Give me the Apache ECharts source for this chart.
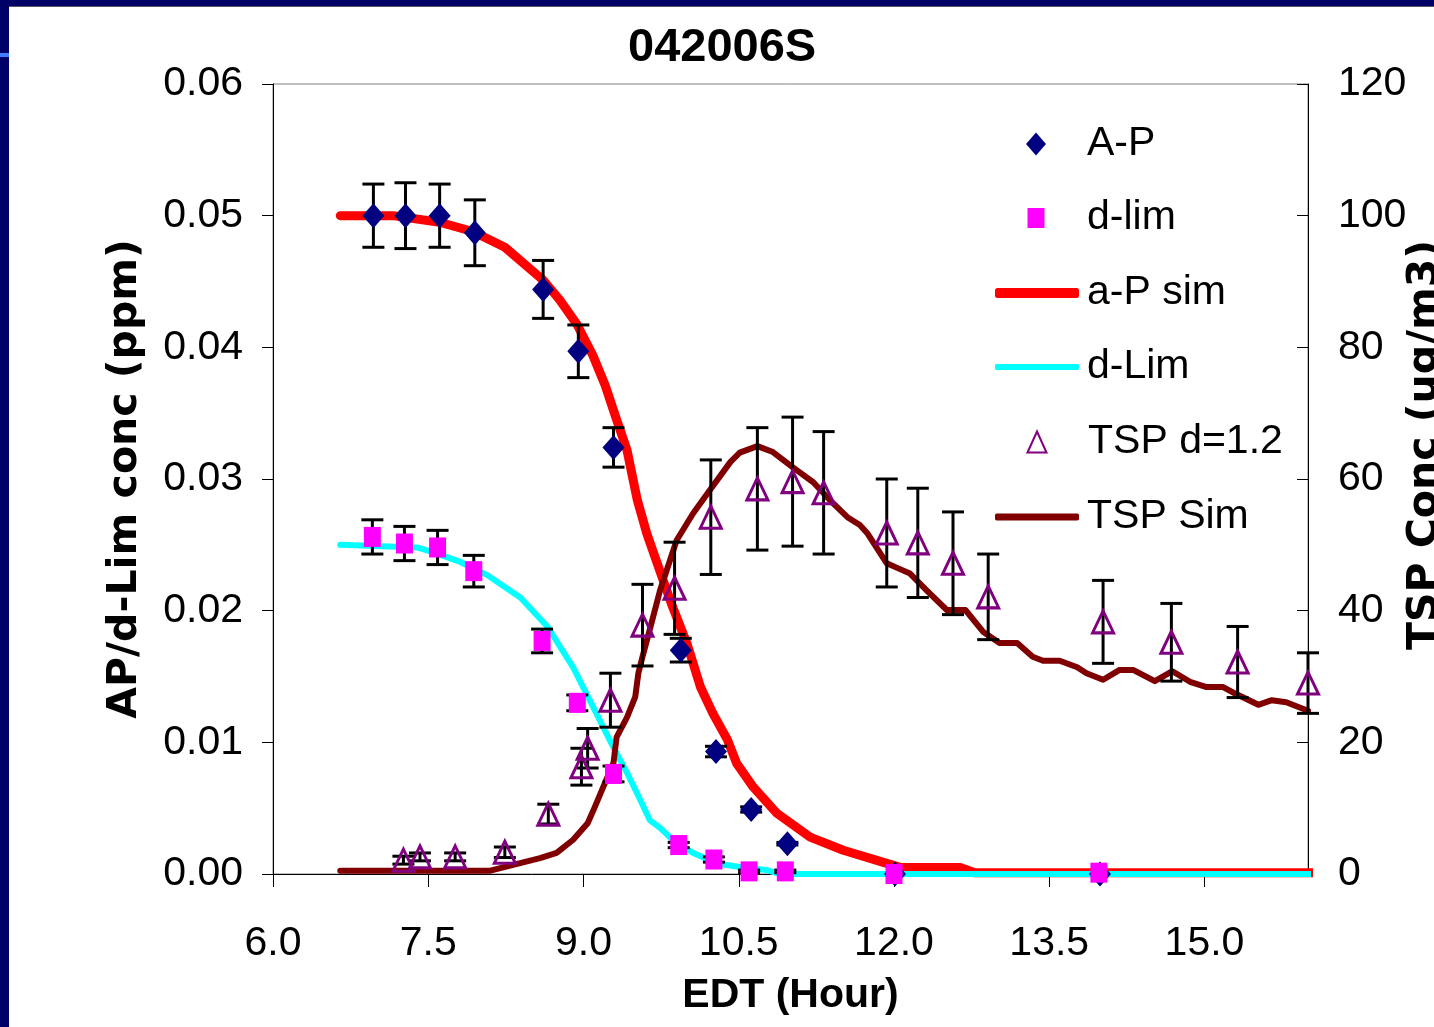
<!DOCTYPE html>
<html>
<head>
<meta charset="utf-8">
<script src="https://cdn.jsdelivr.net/npm/echarts@6/dist/echarts.min.js"></script>
<style>
html,body{margin:0;padding:0;background:#fff;}
#c{width:1434px;height:1027px;}
</style>
</head>
<body>
<div id="c"></div>
<script>
// ---- data ----
var xTicks = [6.0, 7.5, 9.0, 10.5, 12.0, 13.5, 15.0];
var leftTicks = [0.00, 0.01, 0.02, 0.03, 0.04, 0.05, 0.06];
var rightTicks = [0, 20, 40, 60, 80, 100, 120];

// A-P measured (ppm)
var apX   = [6.97, 7.28, 7.61, 7.95, 8.61, 8.95, 9.29, 9.94, 10.28, 10.62, 10.97, 12.01, 13.99];
var apY   = [0.0500, 0.0500, 0.0500, 0.0487, 0.0444, 0.0397, 0.0324, 0.0170, 0.0093, 0.0049, 0.0023, 0.0000, 0.0000];
var apErr = [0.0024, 0.0025, 0.0024, 0.0025, 0.0022, 0.0020, 0.0015, 0.0009, 0.0004, 0.0002, 0.0001, 0, 0];

// d-lim measured (ppm)
var dlX   = [6.96, 7.27, 7.59, 7.94, 8.60, 8.94, 9.29, 9.92, 10.26, 10.60, 10.95, 12.00, 13.98];
var dlY   = [0.0256, 0.0251, 0.0248, 0.0230, 0.0177, 0.0130, 0.0076, 0.0022, 0.0011, 0.0002, 0.0002, 0.0000, 0.0001];
var dlErr = [0.0013, 0.0013, 0.0013, 0.0012, 0.0009, 0.0006, 0.0006, 0.0002, 0.0002, 0.0001, 0.0001, 0, 0];

// TSP d=1.2 measured (ug/m3, right axis)
var tspX   = [7.26, 7.42, 7.76, 8.24, 8.66, 8.98, 9.04, 9.26, 9.57, 9.88, 10.23, 10.68, 11.02, 11.32, 11.93, 12.23, 12.57, 12.91, 14.02, 14.68, 15.32, 16.00];
var tspY   = [2.1, 2.6, 2.6, 3.3, 9.1, 16.3, 19.1, 26.4, 37.8, 43.4, 54.2, 58.5, 59.6, 57.9, 51.8, 50.3, 47.2, 42.1, 38.3, 35.2, 32.2, 29.0];
var tspErr = [0.6, 0.6, 0.6, 0.8, 1.5, 2.8, 3.0, 4.1, 6.2, 7.0, 8.7, 9.3, 9.8, 9.3, 8.2, 8.3, 7.8, 6.5, 6.3, 5.9, 5.4, 4.6];

// a-P sim (ppm)
var apSimX = [6.65, 7.16, 7.61, 7.93, 8.24, 8.61, 8.77, 8.94, 9.09, 9.21, 9.32, 9.42, 9.52, 9.61, 9.69, 9.77, 9.86, 10.00, 10.13, 10.25, 10.39, 10.48, 10.64, 10.87, 11.19, 11.51, 11.89, 12.06, 12.64, 12.78, 16.1];
var apSimY = [0.0500, 0.0500, 0.0495, 0.0488, 0.0476, 0.0451, 0.0436, 0.0417, 0.0394, 0.0371, 0.0345, 0.0322, 0.0284, 0.0259, 0.0241, 0.0223, 0.0203, 0.0175, 0.0142, 0.0122, 0.0102, 0.0084, 0.0066, 0.0046, 0.0028, 0.0018, 0.0009, 0.0005, 0.0005, 0.0001, 0.0001];

// d-Lim sim (ppm)
var dlSimX = [6.65, 7.39, 7.52, 7.81, 8.07, 8.39, 8.65, 8.90, 9.06, 9.29, 9.42, 9.55, 9.64, 9.74, 9.86, 10.06, 10.29, 10.54, 10.77, 10.90, 16.1];
var dlSimY = [0.0250, 0.0248, 0.0245, 0.0237, 0.0227, 0.0210, 0.0188, 0.0157, 0.0132, 0.0096, 0.0077, 0.0056, 0.0041, 0.0035, 0.0026, 0.0016, 0.0008, 0.0005, 0.0003, 0.0000, 0.0000];

// TSP sim (ug/m3, right axis)
var tspSimX = [6.65, 8.10, 8.58, 8.74, 8.90, 9.04, 9.11, 9.19, 9.29, 9.32, 9.42, 9.50, 9.53, 9.57, 9.64, 9.74, 9.90, 10.06, 10.22, 10.42, 10.51, 10.68, 10.83, 11.02, 11.22, 11.38, 11.55, 11.67, 11.74, 11.93, 12.03, 12.15, 12.32, 12.51, 12.69, 12.86, 13.02, 13.19, 13.34, 13.44, 13.60, 13.77, 13.86, 14.02, 14.18, 14.31, 14.52, 14.69, 14.86, 15.02, 15.18, 15.31, 15.52, 15.65, 15.79, 16.00];
var tspSimY = [0.5, 0.5, 2.4, 3.2, 5.2, 7.7, 10.2, 13.2, 16.9, 20.8, 23.8, 26.9, 30.5, 33.0, 37.1, 43.1, 50.7, 54.8, 58.3, 62.6, 64.0, 65.0, 64.1, 61.8, 59.5, 56.8, 54.2, 53.0, 51.8, 47.2, 46.5, 45.7, 43.0, 40.1, 40.1, 36.8, 35.1, 35.1, 33.0, 32.4, 32.4, 31.4, 30.5, 29.5, 31.0, 31.0, 29.3, 30.8, 29.2, 28.4, 28.4, 27.3, 25.7, 26.4, 26.1, 24.8];

// legend entries in display order
var legendNames = ['A-P', 'd-lim', 'a-P sim', 'd-Lim', 'TSP d=1.2', 'TSP Sim'];

// ---- build chart ----
function zip2(xs, ys) { return xs.map(function (x, i) { return [x, ys[i]]; }); }
function zip3(xs, ys, es) { return xs.map(function (x, i) { return [x, ys[i], es[i]]; }); }

var FONT = "'Liberation Sans', Arial, Helvetica, sans-serif";
var FONT_WIDE = "'DejaVu Sans', 'Liberation Sans', Arial, sans-serif";

function errRender(params, api) {
  var x = api.value(0), y = api.value(1), e = api.value(2);
  if (!(e > 0)) return null;
  var top = api.coord([x, y + e]);
  var bot = api.coord([x, y - e]);
  var hw = 11;
  var st = { stroke: '#000', lineWidth: 3, fill: null };
  return {
    type: 'group',
    children: [
      { type: 'line', shape: { x1: top[0], y1: top[1], x2: bot[0], y2: bot[1] }, style: st },
      { type: 'line', shape: { x1: top[0] - hw, y1: top[1], x2: top[0] + hw, y2: top[1] }, style: st },
      { type: 'line', shape: { x1: bot[0] - hw, y1: bot[1], x2: bot[0] + hw, y2: bot[1] }, style: st }
    ]
  };
}

// one legend component per entry so each icon gets its own size
var legendSpec = [
  { icon: 'diamond',   w: 20, h: 23, left: 1026,  pad: 36 },
  { icon: 'rect',      w: 17, h: 20, left: 1027.5, pad: 37.5 },
  { icon: 'roundRect', w: 84, h: 10, left: 995,   pad: 3 },
  { icon: 'roundRect', w: 84, h: 6,  left: 995,   pad: 3 },
  { icon: 'triangle',  w: 19, h: 21, left: 1026.5, pad: 36.5 },
  { icon: 'roundRect', w: 84, h: 7,  left: 995,   pad: 3 }
];
var legendCenters = [144, 218, 293, 367, 442, 517];
var legends = legendNames.map(function (nm, i) {
  var s = legendSpec[i];
  return {
    orient: 'vertical',
    left: s.left,
    top: legendCenters[i] - 20.5,
    padding: 0,
    itemWidth: s.w,
    itemHeight: s.h,
    selectedMode: false,
    textStyle: { fontFamily: FONT, fontSize: 41, color: '#000', lineHeight: 41, padding: [0, 0, 0, s.pad] },
    data: [{ name: nm, icon: s.icon }]
  };
});

var chart = echarts.init(document.getElementById('c'), null, { renderer: 'canvas' });

var option = {
  backgroundColor: '#ffffff',
  animation: false,
  title: {
    text: '042006S',
    left: 623,
    top: 20,
    textStyle: { fontFamily: FONT, fontSize: 47, fontWeight: 'bold', color: '#000' }
  },
  graphic: [
    { type: 'rect', shape: { x: 0, y: 0, width: 1434, height: 6 }, style: { fill: '#000066' }, z: 100 },
    { type: 'rect', shape: { x: 0, y: 6, width: 1434, height: 1 }, style: { fill: '#555566' }, z: 100 },
    { type: 'rect', shape: { x: 0, y: 0, width: 9, height: 1027 }, style: { fill: '#000066' }, z: 100 },
    { type: 'rect', shape: { x: 0, y: 53, width: 9, height: 4 }, style: { fill: '#3f7fff' }, z: 101 }
  ],
  grid: {
    left: 273, right: 126, top: 84, bottom: 153,
    containLabel: false,
    outerBoundsMode: 'none',
    show: true, borderColor: '#808080', borderWidth: 1, backgroundColor: 'transparent'
  },
  legend: legends,
  xAxis: {
    type: 'value',
    min: 6, max: 16, interval: 1.5,
    name: 'EDT (Hour)',
    nameLocation: 'middle',
    nameGap: 101,
    nameMoveOverlap: false,
    nameTextStyle: { fontFamily: FONT, fontSize: 41, fontWeight: 'bold', color: '#000' },
    axisLine: { show: true, onZero: false, lineStyle: { color: '#000', width: 1 } },
    axisTick: { show: true, inside: false, length: 13, lineStyle: { color: '#000', width: 1 } },
    axisLabel: {
      margin: 49, fontFamily: FONT, fontSize: 41, color: '#000', showMaxLabel: false,
      formatter: function (v) { return xTicks.indexOf(+v.toFixed(1)) >= 0 ? v.toFixed(1) : ''; }
    },
    splitLine: { show: false }
  },
  yAxis: [
    {
      type: 'value', position: 'left',
      min: leftTicks[0], max: leftTicks[leftTicks.length - 1], interval: 0.01,
      name: 'AP/d-Lim conc (ppm)',
      nameLocation: 'middle', nameRotate: 90, nameGap: 127,
      nameMoveOverlap: false,
      nameTextStyle: { fontFamily: FONT_WIDE, fontSize: 41, fontWeight: 'bold', color: '#000' },
      axisLine: { show: true, lineStyle: { color: '#000', width: 1 } },
      axisTick: { show: true, inside: false, length: 11, lineStyle: { color: '#000', width: 1 } },
      axisLabel: { margin: 30, fontFamily: FONT, fontSize: 41, color: '#000', padding: [3, 0, 0, 0],
        formatter: function (v) { return v.toFixed(2); } },
      splitLine: { show: false }
    },
    {
      type: 'value', position: 'right',
      min: rightTicks[0], max: rightTicks[rightTicks.length - 1], interval: 20,
      name: 'TSP Conc (ug/m3)',
      nameLocation: 'middle', nameRotate: 90, nameGap: 97,
      nameMoveOverlap: false,
      nameTextStyle: { fontFamily: FONT_WIDE, fontSize: 41, lineHeight: 41, fontWeight: 'bold', color: '#000', padding: [0, 0, 0, 68] },
      axisLine: { show: true, lineStyle: { color: '#000', width: 1 } },
      axisTick: { show: true, inside: true, length: 11, lineStyle: { color: '#000', width: 1 } },
      axisLabel: { margin: 30, fontFamily: FONT, fontSize: 41, color: '#000', padding: [3, 0, 0, 0],
        formatter: function (v) { return String(v); } },
      splitLine: { show: false }
    }
  ],
  series: [
    {
      name: 'a-P sim', type: 'line', yAxisIndex: 0, z: 2, clip: false,
      data: zip2(apSimX, apSimY), symbol: 'none', smooth: false,
      itemStyle: { color: '#ff0000' },
      lineStyle: { color: '#ff0000', width: 9, cap: 'round', join: 'round' }
    },
    {
      name: 'd-Lim', type: 'line', yAxisIndex: 0, z: 3, clip: false,
      data: zip2(dlSimX, dlSimY), symbol: 'none', smooth: false,
      itemStyle: { color: '#00ffff' },
      lineStyle: { color: '#00ffff', width: 6, cap: 'round', join: 'round' }
    },
    {
      name: 'TSP Sim', type: 'line', yAxisIndex: 1, z: 4,
      data: zip2(tspSimX, tspSimY), symbol: 'none', smooth: false,
      itemStyle: { color: '#800000' },
      lineStyle: { color: '#800000', width: 6, cap: 'round', join: 'round' }
    },
    {
      name: 'errAP', type: 'custom', yAxisIndex: 0, z: 5, renderItem: errRender,
      encode: { x: 0, y: 1 }, data: zip3(apX, apY, apErr), silent: true
    },
    {
      name: 'errDL', type: 'custom', yAxisIndex: 0, z: 5, renderItem: errRender,
      encode: { x: 0, y: 1 }, data: zip3(dlX, dlY, dlErr), silent: true
    },
    {
      name: 'errTSP', type: 'custom', yAxisIndex: 1, z: 5, renderItem: errRender,
      encode: { x: 0, y: 1 }, data: zip3(tspX, tspY, tspErr), silent: true
    },
    {
      name: 'A-P', type: 'scatter', yAxisIndex: 0, z: 6,
      data: zip2(apX, apY), symbol: 'diamond', symbolSize: [22, 25],
      itemStyle: { color: '#000080', opacity: 1 }
    },
    {
      name: 'd-lim', type: 'scatter', yAxisIndex: 0, z: 6,
      data: zip2(dlX, dlY), symbol: 'rect', symbolSize: [17, 20],
      itemStyle: { color: '#ff00ff', opacity: 1 }
    },
    {
      name: 'TSP d=1.2', type: 'scatter', yAxisIndex: 1, z: 6,
      data: zip2(tspX, tspY), symbol: 'triangle', symbolSize: [21, 22],
      itemStyle: { color: 'rgba(255,255,255,0)', borderColor: '#800080', borderWidth: 3, opacity: 1 }
    }
  ]
};
chart.setOption(option);
</script>
</body>
</html>
